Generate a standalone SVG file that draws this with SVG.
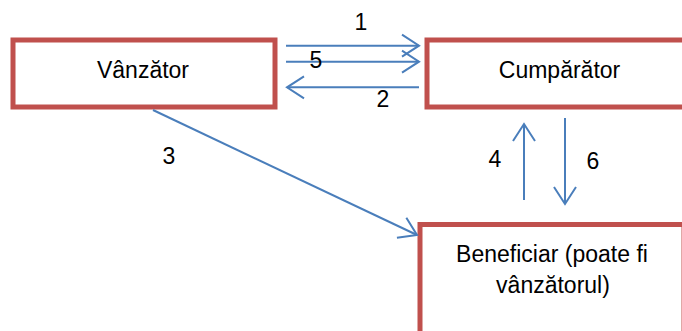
<svg xmlns="http://www.w3.org/2000/svg" width="682" height="331" viewBox="0 0 682 331">
<style>
.box{fill:#fff;stroke:#c0504d;stroke-width:5}
.t{font-family:"Liberation Sans",Arial,sans-serif;font-size:23px;fill:#000;text-anchor:middle}
.c{stroke:#4a7ebb;stroke-width:2;fill:none}
</style>
<defs>
<marker id="ah" markerUnits="userSpaceOnUse" markerWidth="24" markerHeight="26" refX="19" refY="12" orient="auto" viewBox="0 0 24 24">
<path d="M2,1 L19,12 L2,23" fill="none" stroke="#4a7ebb" stroke-width="2"/>
</marker>
</defs>
<rect width="682" height="331" fill="#fff"/>
<g id="vanzator">
<rect class="box" x="13" y="40" width="262" height="67"/>
<text class="t" x="143" y="78">Vânzător</text>
</g>
<g id="cumparator">
<rect class="box" x="427" y="40" width="266" height="67"/>
<text class="t" x="559.5" y="78">Cumpărător</text>
</g>
<g id="beneficiar">
<rect class="box" x="420" y="224.5" width="264" height="120"/>
<text class="t" x="552" y="262">Beneficiar (poate fi</text>
<text class="t" x="553" y="293">vânzătorul)</text>
</g>
<g id="connectors">
<line class="c" x1="286" y1="45.7" x2="419" y2="45.7" marker-end="url(#ah)"/>
<line class="c" x1="286" y1="61.7" x2="419" y2="61.7" marker-end="url(#ah)"/>
<line class="c" x1="419" y1="87.3" x2="287" y2="87.3" marker-end="url(#ah)"/>
<line class="c" x1="153" y1="110" x2="417" y2="235" marker-end="url(#ah)"/>
<line class="c" x1="524" y1="200" x2="524" y2="124" marker-end="url(#ah)"/>
<line class="c" x1="565" y1="118" x2="565" y2="204" marker-end="url(#ah)"/>
</g>
<g id="labels">
<text class="t" x="361" y="30">1</text>
<text class="t" x="316" y="68">5</text>
<text class="t" x="383" y="107">2</text>
<text class="t" x="169" y="164">3</text>
<text class="t" x="495" y="167">4</text>
<text class="t" x="593" y="169">6</text>
</g>
</svg>
